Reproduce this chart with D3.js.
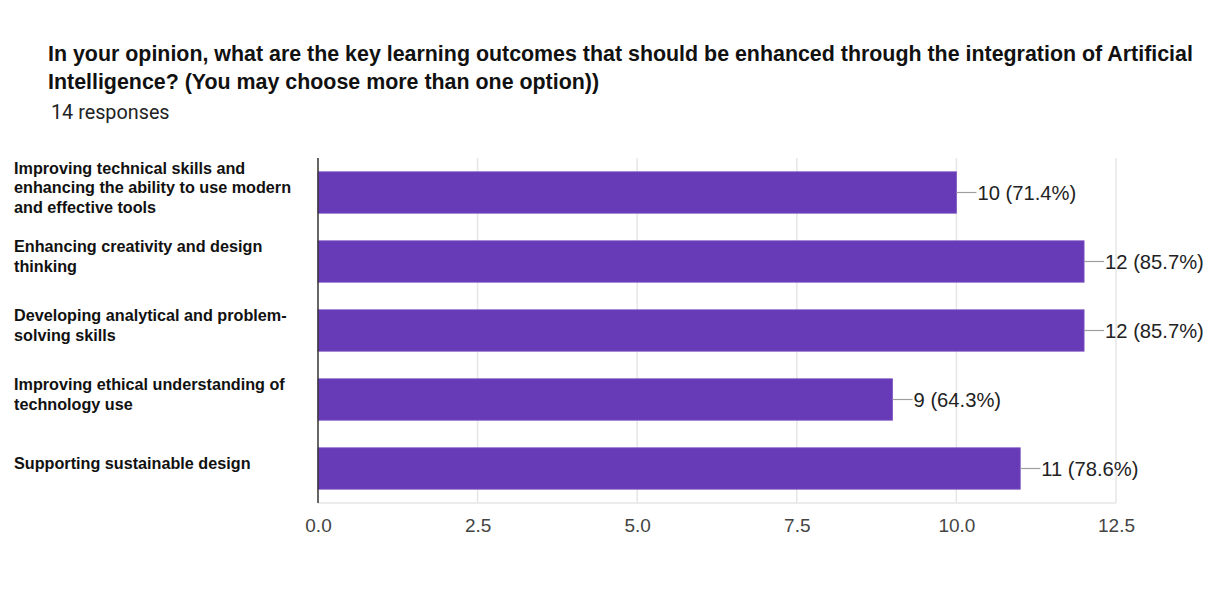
<!DOCTYPE html>
<html>
<head>
<meta charset="utf-8">
<script src="https://cdn.jsdelivr.net/npm/d3@7"></script>
<style>
  body { margin: 0; background: #fff; }
  svg { display: block; }
</style>
</head>
<body>
<div id="chart"></div>
<script>
// chart values
const titleLines = [
  'In your opinion, what are the key learning outcomes that should be enhanced through the integration of Artificial',
  'Intelligence? (You may choose more than one option))'
];
const responsesText = '14 responses';
const categories = [
  'Improving technical skills and\nenhancing the ability to use modern\nand effective tools',
  'Enhancing creativity and design\nthinking',
  'Developing analytical and problem-\nsolving skills',
  'Improving ethical understanding of\ntechnology use',
  'Supporting sustainable design'
];
const counts = [10, 12, 12, 9, 11];
const percents = ['71.4%', '85.7%', '85.7%', '64.3%', '78.6%'];
const xTicks = [0, 2.5, 5, 7.5, 10, 12.5];

const width = 1224, height = 597;
const margin = { top: 158, right: 108, bottom: 94, left: 318 };

const svg = d3.select('#chart').append('svg')
  .attr('width', width)
  .attr('height', height);

// --- Title ---
svg.append('g').selectAll('text')
  .data(titleLines)
  .enter().append('text')
  .attr('x', 48)
  .attr('y', (d, i) => 61 + i * 28)
  .text(d => d)
  .style('font-family', '"Liberation Sans", Arial, sans-serif')
  .style('font-weight', 'bold')
  .style('font-size', '21.4px')
  .attr('fill', '#111');

svg.append('text')
  .attr('x', 51)
  .attr('y', 119)
  .text(responsesText)
  .style('font-family', 'Roboto, sans-serif')
  .style('font-size', '19.8px')
  .attr('fill', '#222');

// --- Scales ---
const x = d3.scaleLinear()
  .domain([0, 12.5])
  .range([margin.left, width - margin.right]);

const y = d3.scaleBand()
  .domain(categories)
  .range([margin.top, height - margin.bottom])
  .paddingInner(0.4)
  .paddingOuter(0.2);

// gridlines
svg.append('g').selectAll('line')
  .data(xTicks.slice(1))
  .enter().append('line')
  .attr('x1', d => x(d)).attr('x2', d => x(d))
  .attr('y1', margin.top).attr('y2', height - margin.bottom)
  .attr('stroke', '#e6e6e6')
  .attr('stroke-width', 1.5);

svg.append('line')
  .attr('x1', x(0)).attr('x2', x(12.5))
  .attr('y1', height - margin.bottom).attr('y2', height - margin.bottom)
  .attr('stroke', '#e6e6e6')
  .attr('stroke-width', 1.5);

// x axis labels
const xAxis = d3.axisBottom(x)
  .tickValues(xTicks)
  .tickFormat(d3.format('.1f'))
  .tickSize(0)
  .tickPadding(16);

const xg = svg.append('g')
  .attr('transform', `translate(0,${height - margin.bottom})`)
  .call(xAxis);
xg.select('.domain').remove();
xg.selectAll('text')
  .style('font-family', '"Liberation Sans", Arial, sans-serif')
  .style('font-size', '19px')
  .attr('fill', '#444');

// --- Bars ---
const rows = categories.map((c, i) => ({ cat: c, n: counts[i], pct: percents[i] }));

svg.append('g').selectAll('rect')
  .data(rows)
  .enter().append('rect')
  .attr('x', x(0))
  .attr('y', d => y(d.cat))
  .attr('width', d => x(d.n) - x(0))
  .attr('height', y.bandwidth())
  .attr('fill', '#673ab7')
  .attr('stroke', '#7e57c2')
  .attr('stroke-width', 0.8);

// leader lines + value labels
const lbl = svg.append('g').selectAll('g')
  .data(rows)
  .enter().append('g')
  .attr('transform', d => `translate(${x(d.n)},${y(d.cat) + y.bandwidth() / 2})`);

lbl.append('line')
  .attr('x1', 0).attr('x2', 20)
  .attr('stroke', '#9e9e9e')
  .attr('stroke-width', 1.2);

lbl.append('text')
  .attr('x', 21)
  .attr('dy', '0.35em')
  .text(d => `${d.n} (${d.pct})`)
  .style('font-family', '"Liberation Sans", Arial, sans-serif')
  .style('font-size', '20.2px')
  .attr('fill', '#222');

// category labels
const cats = svg.append('g').selectAll('text')
  .data(categories)
  .enter().append('text')
  .attr('transform', d => `translate(14,${y(d) + y.bandwidth() / 2 - 5})`)
  .style('font-family', '"Liberation Sans", Arial, sans-serif')
  .style('font-weight', 'bold')
  .style('font-size', '16.2px')
  .attr('fill', '#111');

cats.each(function(d) {
  const lines = d.split('\n');
  const t = d3.select(this);
  lines.forEach((ln, i) => {
    t.append('tspan')
      .attr('x', 0)
      .attr('y', (i - (lines.length - 1) / 2) * 19.5)
      .attr('dy', '0.35em')
      .text(ln);
  });
});

// zero axis line
svg.append('line')
  .attr('x1', x(0)).attr('x2', x(0))
  .attr('y1', margin.top).attr('y2', height - margin.bottom)
  .attr('stroke', '#333')
  .attr('stroke-width', 1.5);
</script>
</body>
</html>
